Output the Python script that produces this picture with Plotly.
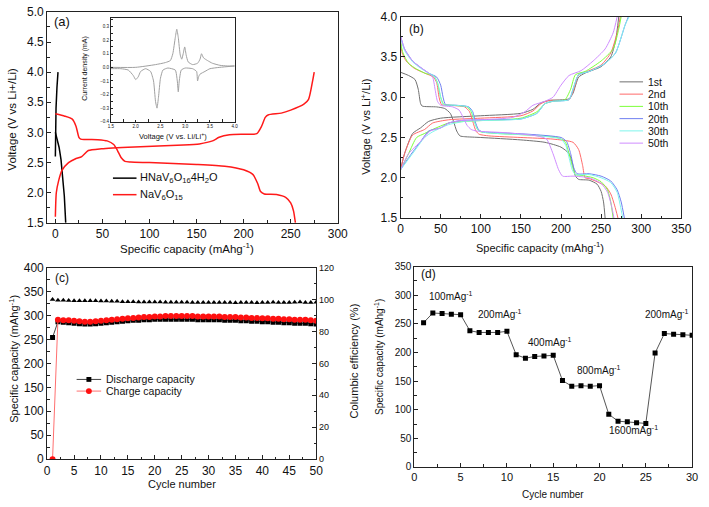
import plotly.graph_objects as go

W, H = 709, 507
def px(x): return x / W
def py(y): return 1 - y / H

# ---------------- Panel (a) data ----------------
a_hna_dis_x = [0, 2, 4, 6, 8, 9.5, 11]
a_hna_dis_y = [3.0, 2.88, 2.75, 2.55, 2.25, 1.95, 1.5]
a_hna_chg_x = [0, 0, 0.7, 1.7, 2.8]
a_hna_chg_y = [2.6, 3.0, 3.4, 3.75, 4.0]
a_nav_dis_x = [0, 10, 18, 22, 25, 27, 45, 55, 62, 66, 70, 74, 80, 100, 150, 180, 200, 210, 215, 218, 222, 235, 245, 250, 253, 255]
a_nav_dis_y = [3.31, 3.27, 3.22, 3.1, 2.92, 2.89, 2.88, 2.86, 2.8, 2.7, 2.58, 2.52, 2.51, 2.5, 2.47, 2.44, 2.38, 2.3, 2.15, 2.02, 1.98, 1.97, 1.92, 1.83, 1.7, 1.5]
a_nav_chg_x = [0, 1, 3.5, 7, 14, 21, 28, 35, 49, 84, 136, 153, 167, 174, 185, 202, 214, 219, 223, 226, 240, 250, 264, 269, 273, 275]
a_nav_chg_y = [1.6, 2.0, 2.2, 2.37, 2.5, 2.56, 2.6, 2.7, 2.73, 2.76, 2.79, 2.81, 2.86, 2.92, 2.96, 2.97, 2.98, 3.1, 3.25, 3.29, 3.32, 3.37, 3.47, 3.55, 3.83, 4.0]

# inset CV
cv_ox_x = [1.5, 2.0, 2.4, 2.6, 2.7, 2.75, 2.8, 2.83, 2.86, 2.9, 2.93, 2.96, 2.99, 3.02, 3.06, 3.15, 3.25, 3.3, 3.33, 3.37, 3.45, 3.55, 3.7, 3.85, 4.0]
cv_ox_y = [0.0, 0.0, 0.02, 0.035, 0.05, 0.1, 0.22, 0.28, 0.22, 0.09, 0.06, 0.1, 0.15, 0.09, 0.04, 0.02, 0.03, 0.06, 0.1, 0.07, 0.05, 0.03, 0.015, 0.01, 0.01]
cv_red_x = [4.0, 3.7, 3.5, 3.4, 3.3, 3.27, 3.25, 3.23, 3.15, 3.0, 2.92, 2.88, 2.86, 2.84, 2.8, 2.65, 2.55, 2.5, 2.46, 2.43, 2.4, 2.36, 2.3, 2.2, 2.1, 2.05, 2.0, 1.95, 1.85, 1.7, 1.5]
cv_red_y = [0.01, 0.0, -0.01, -0.03, -0.05, -0.07, -0.1, -0.03, -0.01, -0.005, -0.02, -0.1, -0.18, -0.1, -0.02, -0.005, -0.02, -0.08, -0.22, -0.3, -0.25, -0.1, -0.03, -0.01, -0.03, -0.07, -0.09, -0.06, -0.02, -0.01, -0.01]

# ---------------- Panel (b) data ----------------
b_labels = ["1st", "2nd", "10th", "20th", "30th", "50th"]
b_colors = ["#707070", "#ff6a6a", "#7dff3a", "#6f7ff0", "#7ff5ec", "#cf8cff"]
b_dis_x = [
    [0, 10, 18, 22, 25, 27, 45, 55, 62, 66, 70, 74, 80, 100, 150, 180, 200, 210, 215, 218, 222, 235, 245, 250, 253, 255],
    [0, 2, 7, 17, 30, 41, 45, 48, 51, 60, 80, 86, 90, 94, 98, 110, 150, 190, 215, 222, 227, 230, 235, 245, 255, 262, 267, 271],
    [0, 3, 10, 20, 30, 42, 46, 50, 54, 65, 83, 88, 92, 96, 100, 120, 160, 195, 205, 210, 214, 218, 225, 240, 250, 258, 262, 265],
    [0, 5, 15, 25, 35, 45, 50, 53, 56, 70, 85, 90, 93, 97, 102, 120, 160, 200, 207, 212, 216, 220, 235, 250, 262, 270, 275, 279],
    [0, 5, 15, 25, 35, 42, 47, 50, 53, 68, 84, 89, 92, 96, 101, 120, 160, 200, 206, 210, 214, 218, 235, 250, 262, 270, 274, 277],
    [0, 5, 15, 25, 35, 40, 43, 46, 50, 65, 73, 78, 83, 88, 95, 130, 170, 182, 190, 197, 202, 215, 235, 250, 258, 263, 266],
]
b_dis_y = [
    [3.31, 3.27, 3.22, 3.1, 2.92, 2.89, 2.88, 2.86, 2.8, 2.7, 2.58, 2.52, 2.51, 2.5, 2.47, 2.44, 2.38, 2.3, 2.15, 2.02, 1.98, 1.97, 1.92, 1.83, 1.7, 1.5],
    [3.7, 3.55, 3.45, 3.36, 3.3, 3.25, 3.18, 3.0, 2.91, 2.9, 2.88, 2.82, 2.7, 2.58, 2.54, 2.52, 2.5, 2.48, 2.44, 2.35, 2.15, 2.0, 1.99, 1.95, 1.9, 1.8, 1.65, 1.5],
    [3.68, 3.55, 3.42, 3.35, 3.3, 3.26, 3.18, 3.0, 2.91, 2.9, 2.88, 2.82, 2.7, 2.6, 2.57, 2.55, 2.53, 2.5, 2.45, 2.3, 2.15, 2.04, 2.03, 2.0, 1.95, 1.85, 1.7, 1.5],
    [3.76, 3.6, 3.45, 3.37, 3.3, 3.25, 3.15, 3.0, 2.91, 2.9, 2.88, 2.82, 2.7, 2.6, 2.57, 2.56, 2.54, 2.5, 2.45, 2.3, 2.12, 2.05, 2.05, 2.02, 1.96, 1.85, 1.7, 1.5],
    [3.74, 3.58, 3.44, 3.36, 3.3, 3.26, 3.15, 3.0, 2.91, 2.9, 2.88, 2.82, 2.7, 2.6, 2.57, 2.55, 2.53, 2.48, 2.4, 2.25, 2.1, 2.04, 2.04, 2.0, 1.94, 1.82, 1.65, 1.5],
    [3.76, 3.6, 3.45, 3.37, 3.3, 3.25, 3.1, 2.95, 2.9, 2.88, 2.84, 2.75, 2.65, 2.6, 2.58, 2.56, 2.52, 2.48, 2.3, 2.1, 2.02, 2.02, 2.0, 1.93, 1.82, 1.65, 1.5],
]
b_chg_x = [
    [0, 5, 15, 25, 35, 50, 100, 150, 165, 175, 185, 210, 215, 222, 230, 250, 262, 268, 272],
    [0, 5, 15, 30, 40, 60, 100, 150, 165, 175, 185, 210, 216, 222, 230, 250, 262, 270, 274],
    [0, 10, 20, 30, 40, 60, 80, 100, 150, 170, 180, 190, 205, 212, 218, 230, 250, 265, 272, 275],
    [0, 10, 25, 35, 50, 60, 75, 100, 150, 170, 180, 190, 210, 215, 222, 235, 255, 268, 280, 284],
    [0, 15, 30, 40, 60, 80, 100, 150, 170, 180, 190, 210, 215, 222, 235, 255, 268, 280, 285],
    [0, 10, 25, 37, 50, 60, 75, 100, 140, 155, 165, 180, 190, 200, 210, 225, 240, 255, 265, 270],
]
b_chg_y = [
    [2.1, 2.3, 2.55, 2.62, 2.7, 2.74, 2.77, 2.8, 2.85, 2.93, 2.96, 2.98, 3.05, 3.25, 3.3, 3.38, 3.5, 3.7, 4.0],
    [2.1, 2.3, 2.53, 2.6, 2.68, 2.72, 2.74, 2.77, 2.83, 2.92, 2.96, 2.97, 3.1, 3.28, 3.31, 3.4, 3.55, 3.8, 4.0],
    [2.1, 2.3, 2.5, 2.55, 2.6, 2.68, 2.7, 2.71, 2.74, 2.82, 2.92, 2.95, 2.97, 3.1, 3.28, 3.32, 3.45, 3.6, 3.85, 4.0],
    [2.1, 2.25, 2.45, 2.58, 2.62, 2.68, 2.71, 2.72, 2.73, 2.8, 2.92, 2.95, 2.97, 3.1, 3.28, 3.32, 3.42, 3.55, 3.9, 4.0],
    [2.1, 2.3, 2.5, 2.57, 2.66, 2.7, 2.71, 2.73, 2.8, 2.92, 2.95, 2.97, 3.1, 3.28, 3.32, 3.42, 3.55, 3.9, 4.0],
    [2.1, 2.3, 2.45, 2.58, 2.62, 2.68, 2.71, 2.72, 2.75, 2.82, 2.9, 2.95, 3.0, 3.15, 3.27, 3.33, 3.45, 3.6, 3.8, 4.0],
]

# ---------------- Panel (c) data ----------------
c_cycles = list(range(1, 51))
c_discharge = [254, 287, 286, 285, 284, 283, 282, 282, 283, 284, 285, 286, 287, 288, 289, 290, 290, 291, 291, 292,
               292, 292, 292, 292, 292, 292, 292, 291, 291, 291, 291, 291, 290, 290, 290, 289, 289, 288, 288, 287,
               287, 286, 286, 285, 285, 284, 284, 284, 283, 282]
c_charge = [0, 291, 290, 290, 289, 288, 287, 287, 288, 289, 290, 291, 292, 293, 294, 295, 296, 297, 297, 298,
            298, 299, 299, 299, 299, 299, 299, 298, 298, 298, 298, 298, 297, 297, 297, 296, 296, 295, 295, 294,
            294, 293, 293, 292, 292, 291, 291, 291, 290, 289]
c_eff = [100, 99.5, 99.5, 99.4, 99.3, 99.2, 99.2, 99.3, 99.2, 99.0, 99.0, 98.9, 98.9, 98.6, 98.6, 98.6, 98.5, 98.4, 98.4, 98.4,
         98.4, 98.3, 98.3, 98.3, 98.3, 98.3, 98.1, 98.2, 98.2, 98.1, 98.2, 98.1, 98.2, 98.2, 98.0, 98.1, 98.2, 98.1, 98.0, 98.2,
         98.2, 98.3, 98.2, 98.1, 98.2, 98.3, 98.4, 98.2, 98.1, 98.3]

# ---------------- Panel (d) data ----------------
d_cycles = list(range(1, 31))
d_capacity = [252, 269, 268, 267, 266, 238, 235, 235, 235, 237, 196, 190, 193, 194, 195, 151, 141, 142, 141, 142,
              92, 80, 79, 77, 76, 199, 233, 232, 231, 230]
d_rate_labels = ["100mAg<sup>-1</sup>", "200mAg<sup>-1</sup>", "400mAg<sup>-1</sup>", "800mAg<sup>-1</sup>",
                 "1600mAg<sup>-1</sup>", "200mAg<sup>-1</sup>"]
d_rate_x = [4.0, 9.3, 14.7, 19.9, 23.7, 27.3]
d_rate_y = [299, 268, 219, 170, 65, 268]

FONT = "Liberation Sans, Arial, sans-serif"
LC = "#222222"

fig = go.Figure()

# panel a traces
fig.add_trace(go.Scatter(x=a_hna_dis_x, y=a_hna_dis_y, mode="lines", line=dict(color="black", width=1.5), xaxis="x", yaxis="y"))
fig.add_trace(go.Scatter(x=a_hna_chg_x, y=a_hna_chg_y, mode="lines", line=dict(color="black", width=1.5), xaxis="x", yaxis="y"))
fig.add_trace(go.Scatter(x=a_nav_dis_x, y=a_nav_dis_y, mode="lines", line=dict(color="#ff1a1a", width=1.5, shape="spline", smoothing=0.6), xaxis="x", yaxis="y"))
fig.add_trace(go.Scatter(x=a_nav_chg_x, y=a_nav_chg_y, mode="lines", line=dict(color="#ff1a1a", width=1.5, shape="spline", smoothing=0.6), xaxis="x", yaxis="y"))
# inset
fig.add_trace(go.Scatter(x=cv_ox_x, y=cv_ox_y, mode="lines", line=dict(color="#a0a0a0", width=1, shape="spline", smoothing=0.5), xaxis="x2", yaxis="y2"))
fig.add_trace(go.Scatter(x=cv_red_x, y=cv_red_y, mode="lines", line=dict(color="#a0a0a0", width=1, shape="spline", smoothing=0.5), xaxis="x2", yaxis="y2"))

# panel b traces
for i in range(6):
    fig.add_trace(go.Scatter(x=b_dis_x[i], y=b_dis_y[i], mode="lines", line=dict(color=b_colors[i], width=1, shape="spline", smoothing=0.6), xaxis="x3", yaxis="y3"))
    fig.add_trace(go.Scatter(x=b_chg_x[i], y=b_chg_y[i], mode="lines", line=dict(color=b_colors[i], width=1, shape="spline", smoothing=0.6), xaxis="x3", yaxis="y3"))

# panel c traces
fig.add_trace(go.Scatter(x=c_cycles, y=c_eff, mode="markers", marker=dict(symbol="triangle-up", size=5, color="black"), xaxis="x4", yaxis="y5"))
fig.add_trace(go.Scatter(x=c_cycles, y=c_discharge, mode="lines+markers", line=dict(color="#444", width=1), marker=dict(symbol="square", size=5, color="black"), xaxis="x4", yaxis="y4"))
fig.add_trace(go.Scatter(x=c_cycles, y=c_charge, mode="lines+markers", line=dict(color="#ff7070", width=1), marker=dict(symbol="circle", size=6, color="#ff1010"), xaxis="x4", yaxis="y4"))

# panel d traces
fig.add_trace(go.Scatter(x=d_cycles, y=d_capacity, mode="lines+markers", line=dict(color="#555", width=1), marker=dict(symbol="square", size=5, color="black"), xaxis="x5", yaxis="y6"))

def ax(domain, rng, dtick, mdtick, anchor, size=12, **kw):
    d = dict(domain=domain, range=rng, anchor=anchor, showline=True, linecolor=LC, linewidth=1, mirror=True,
             ticks="inside", ticklen=4, tickwidth=1, tickcolor=LC, showgrid=False, zeroline=False,
             dtick=dtick, tick0=0, tickfont=dict(family=FONT, size=size, color="#111"),
             minor=dict(ticks="inside", ticklen=2.5, dtick=mdtick, tick0=0, tickcolor=LC, showgrid=False))
    d.update(kw)
    return d

fig.update_layout(
    width=W, height=H, margin=dict(l=0, r=0, t=0, b=0), showlegend=False,
    paper_bgcolor="white", plot_bgcolor="white",
    xaxis=ax([px(45), px(341)], [-8.7, 300], 50, 25, "y"),
    yaxis=ax([py(222), py(5)], [1.5, 5.0], 0.5, 0.25, "x", tickformat=".1f"),
    xaxis2=ax([px(110), px(236)], [1.5, 4.0], 0.5, 0.25, "y2", size=4.5, ticklen=2, tickformat=".1f", ticklabelstandoff=0),
    yaxis2=ax([py(118), py(11.7)], [-0.4, 0.36], 0.1, 0.05, "x2", size=4.5, ticklen=2, tickformat=".1f", ticklabelstandoff=0),
    xaxis3=ax([px(405), px(691)], [0, 350], 50, 25, "y3"),
    yaxis3=ax([py(217), py(10)], [1.5, 4.0], 0.5, 0.25, "x3", tickformat=".1f"),
    xaxis4=ax([px(45), px(319)], [0, 50], 5, 2.5, "y4"),
    yaxis4=ax([py(465), py(268)], [0, 400], 50, 25, "x4"),
    yaxis5=ax([py(465), py(268)], [0, 120], 20, 10, "x4", size=9, overlaying="y4", side="right", mirror=False),
    xaxis5=ax([px(419), px(702)], [0, 30], 5, 2.5, "y6", size=11),
    yaxis6=ax([py(473), py(267)], [0, 350], 50, 25, "x5", size=10),
)

ann = []
def text(x, y, t, size=11, angle=0, xanchor="center", yanchor="middle", color="#111"):
    ann.append(dict(x=px(x), y=py(y), xref="paper", yref="paper", text=t, showarrow=False, textangle=angle,
                    xanchor=xanchor, yanchor=yanchor, font=dict(family=FONT, size=size, color=color)))

# axis titles
text(187, 248, "Specific capacity (mAhg<sup>-1</sup>)", 11.5)
text(9, 115, "Voltage (V vs Li+/Li)", 11.5, -90)
text(547, 247, "Specific capacity (mAhg<sup>-1</sup>)", 11)
text(369, 123, "Voltage (V vs Li<sup>+</sup>/Li)", 11, -90)
text(182, 491, "Cycle number", 11)
text(11, 362, "Specific capacity (mAhg<sup>-1</sup>)", 11, -90)
text(357, 364, "Columbic efficiency (%)", 11, -90)
text(560, 501, "Cycle number", 10)
text(383, 360, "Specific capacity (mAhg<sup>-1</sup>)", 10, -90)
# inset titles
text(173, 133, "Voltage (V vs. Li/Li<sup>+</sup>)", 7.5)
text(84, 63, "Current density (mA)", 7, -90)
# panel labels
text(50, 15, "(a)", 13, xanchor="left")
text(412, 23, "(b)", 12, xanchor="left")
text(51, 279, "(c)", 12, xanchor="left")
text(424, 275, "(d)", 12, xanchor="left")

# rate labels in (d)
for t, xv, yv in zip(d_rate_labels, d_rate_x, d_rate_y):
    ann.append(dict(x=xv, y=yv, xref="x5", yref="y6", text=t, showarrow=False,
                    font=dict(family=FONT, size=10, color="#111")))

shapes = []
def seg(x0, y0, x1, y1, color, width=1.5):
    shapes.append(dict(type="line", xref="paper", yref="paper", x0=px(x0), y0=py(y0), x1=px(x1), y1=py(y1),
                       line=dict(color=color, width=width)))

# legend (a)
seg(112, 176, 136, 176, "black", 1.5)
text(138, 176, "HNaV<sub>6</sub>O<sub>16</sub>4H<sub>2</sub>O", 11, xanchor="left")
seg(112, 193, 136, 193, "#ff1a1a", 1.5)
text(138, 193, "NaV<sub>6</sub>O<sub>15</sub>", 11, xanchor="left")

# legend (b)
for i, lab in enumerate(b_labels):
    yy = 77 + i * 12.6
    seg(628, yy, 652, yy, b_colors[i], 1)
    text(655, yy, lab, 10.5, xanchor="left")

# legend (c)
seg(75, 383, 100, 383, "#444", 1)
shapes.append(dict(type="rect", xref="paper", yref="paper", x0=px(85), x1=px(90), y0=py(385.5), y1=py(380.5),
                   fillcolor="black", line=dict(width=0)))
text(103, 383, "Discharge capacity", 10.5, xanchor="left")
seg(75, 395, 100, 395, "#ff7070", 1)
shapes.append(dict(type="circle", xref="paper", yref="paper", x0=px(84.5), x1=px(90.5), y0=py(398), y1=py(392),
                   fillcolor="#ff1010", line=dict(width=0)))
text(103, 395, "Charge capacity", 10.5, xanchor="left")

fig.update_layout(annotations=ann, shapes=shapes)
fig.write_html("out.html")
